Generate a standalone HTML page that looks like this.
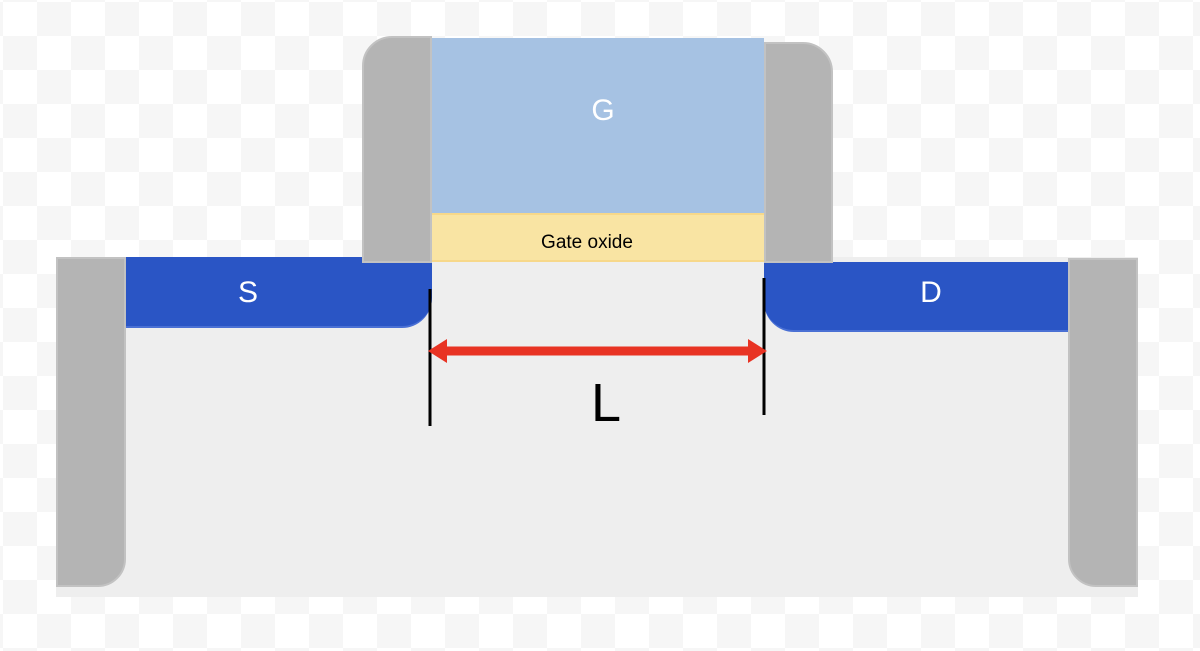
<!DOCTYPE html>
<html><head><style>
body{margin:0;width:1200px;height:651px;overflow:hidden;
background-color:#fff;
background-image:linear-gradient(45deg,#f6f6f6 25%,transparent 25%,transparent 75%,#f6f6f6 75%),linear-gradient(45deg,#f6f6f6 25%,transparent 25%,transparent 75%,#f6f6f6 75%);
background-size:68px 68px;background-position:3px 2px,37px 36px;font-family:"Liberation Sans",sans-serif;position:relative}
div{position:absolute;box-sizing:border-box}
.g{background:#b4b4b4;border:2px solid #c2c2c2}
.t{color:#fff;font-size:30px;text-align:center}
</style></head><body>
<div style="left:56px;top:257px;width:1082px;height:340px;background:#eeeeee"></div>
<div class="g" style="left:56px;top:257px;width:70px;height:330px;border-bottom-right-radius:28px"></div>
<div class="g" style="left:1068px;top:258px;width:70px;height:329px;border-bottom-left-radius:28px"></div>
<div style="left:126px;top:257px;width:306px;height:71px;background:#2a55c5;border-bottom:2px solid #4a70d4;border-bottom-right-radius:30px"></div>
<div style="left:764px;top:262px;width:304px;height:70px;background:#2a55c5;border-bottom:2px solid #4a70d4;border-bottom-left-radius:30px"></div>
<div class="t" style="left:208px;top:276px;width:80px">S</div>
<div class="t" style="left:891px;top:276px;width:80px">D</div>
<div style="left:432px;top:38px;width:332px;height:177px;background:#a6c2e3"></div>
<div style="left:432px;top:213px;width:332px;height:49px;background:#f9e4a3;border-top:2px solid #f7d88a;border-bottom:2px solid #f7d88a"></div>
<div class="g" style="left:362px;top:36px;width:70px;height:227px;border-top-left-radius:30px"></div>
<div class="g" style="left:764px;top:42px;width:69px;height:221px;border-top-right-radius:30px"></div>
<div class="t" style="left:563px;top:94px;width:80px">G</div>
<div style="left:487px;top:232px;width:200px;text-align:center;font-size:19px;color:#000">Gate oxide</div>
<svg style="position:absolute;left:0;top:0" width="1200" height="651">
<line x1="430" y1="289" x2="430" y2="426" stroke="#000" stroke-width="3"/>
<line x1="764" y1="278" x2="764" y2="415" stroke="#000" stroke-width="3"/>
<line x1="440" y1="351" x2="754" y2="351" stroke="#e83323" stroke-width="9"/>
<polygon points="428,351 447,339 447,363" fill="#e83323"/>
<polygon points="767,351 748,339 748,363" fill="#e83323"/>
<text x="606" y="421" font-size="54" text-anchor="middle" font-family="Liberation Sans,sans-serif">L</text>
</svg>
</body></html>
